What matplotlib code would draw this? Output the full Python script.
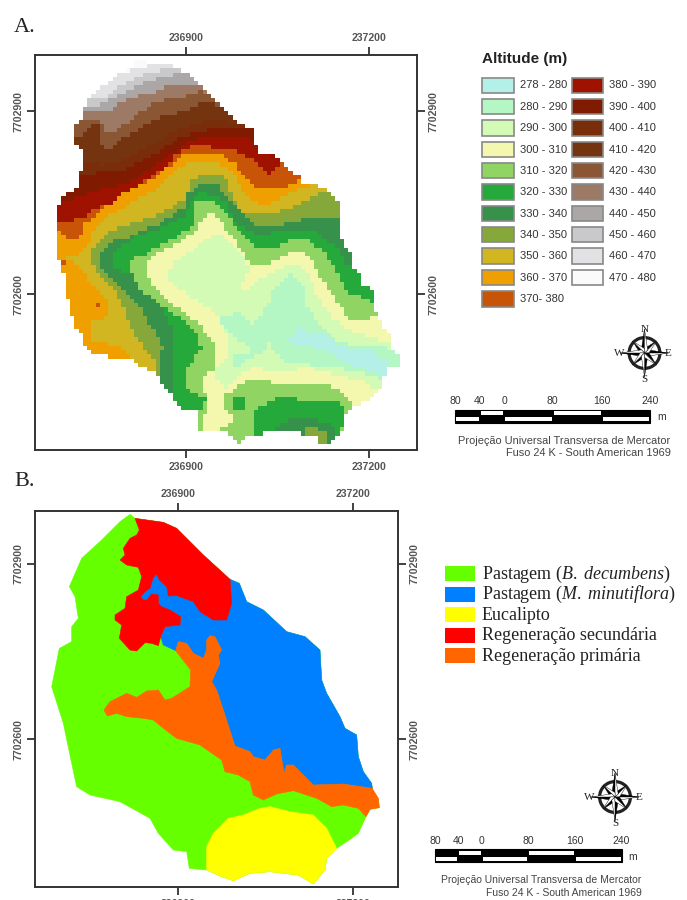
import matplotlib
matplotlib.use("Agg")
import matplotlib.pyplot as plt
import numpy as np
from matplotlib.colors import ListedColormap
from matplotlib.path import Path
from matplotlib.patches import Polygon, Rectangle, Wedge

plt.rcParams['font.family'] = ['Liberation Sans', 'DejaVu Sans']
plt.rcParams['mathtext.fontset'] = 'custom'
plt.rcParams['mathtext.rm'] = 'Liberation Serif'
plt.rcParams['mathtext.it'] = 'Liberation Serif:italic'

W, H = 687, 900

# legend data
alt_labels = ["278 - 280", "280 - 290", "290 - 300", "300 - 310", "310 - 320", "320 - 330",
              "330 - 340", "340 - 350", "350 - 360", "360 - 370", "370- 380", "380 - 390",
              "390 - 400", "400 - 410", "410 - 420", "420 - 430", "430 - 440", "440 - 450",
              "450 - 460", "460 - 470", "470 - 480"]
alt_colors = ["#B4F0E8", "#B4F6C4", "#D4FBB6", "#F4F8AF", "#90D464", "#26A93B",
              "#36924A", "#86A83A", "#D1B621", "#EFA000", "#C85408", "#A01200",
              "#801A00", "#7A2D0A", "#73340F", "#8B5633", "#9C7A66", "#ABA7A7",
              "#C9C9CB", "#E2E2E4", "#FAFAFA"]
use_labels = ["Pastagem ($\\it{B.\\;decumbens}$)", "Pastagem ($\\it{M.\\;minutiflora}$)", "Eucalipto",
              "Regeneração secundária", "Regeneração primária"]
use_colors = ["#66FF00", "#0080FF", "#FFFF00", "#FF0000", "#FF6600"]

easting_ticks = [236900, 237200]
northing_ticks = [7702600, 7702900]
scale_values = [-80, -40, 0, 80, 160, 240]
scale_labels = ["80", "40", "0", "80", "160", "240"]

# outlines (scan units, converted to metres with the ticks below)
outline_a = [(305,60),(345,60),(345,72),(405,72),(435,85),(470,98),(497,125),(520,150),(550,180),(575,205),
             (610,240),(640,255),(665,265),(665,310),(680,320),(690,345),(730,345),(750,370),(780,395),(805,408),
             (820,432),(855,435),(885,450),(920,485),(920,600),(935,605),(960,640),(970,680),(985,705),(1000,740),
             (1035,755),(1035,820),(1050,845),(1075,885),(1075,920),(1100,945),(1100,985),(1065,985),(1060,1020),
             (1050,1050),(1025,1075),(1000,1090),(970,1100),(945,1125),(935,1170),(910,1190),(895,1215),(870,1215),
             (860,1190),(805,1180),(720,1175),(670,1190),(640,1190),(635,1215),(625,1215),(590,1180),(510,1180),
             (500,1160),(500,1110),(465,1110),(420,1085),(420,1060),(395,1040),(385,1010),(345,990),(300,960),
             (270,955),(190,945),(150,915),(150,885),(130,850),(115,795),(100,710),(90,670),(75,650),(75,530),
             (88,485),(110,460),(140,440),(140,405),(152,385),(150,330),(140,325),(125,300),(125,265),(150,240),
             (165,195),(175,180),(205,150),(240,120),(270,98),(305,85)]

# contour lines, each is the upper edge of "altitude below the value"
line_470 = [(280,100),(305,90),(345,88),(360,60)]
line_460 = [(185,175),(225,170),(250,145),(305,120),(350,100),(405,85),(480,95)]
line_450 = [(160,195),(210,195),(260,165),(310,140),(360,120),(410,105),(480,100)]
line_440 = [(160,210),(230,215),(265,185),(330,165),(370,155),(410,137),(500,130)]
line_430 = [(130,245),(170,235),(210,245),(230,280),(250,277),(300,240),(360,195),(410,175),(460,170),(510,155),(530,165)]
line_420 = [(125,295),(155,285),(180,255),(210,255),(215,325),(235,330),(280,295),(350,250),(410,225),(470,210),(530,185),(560,195)]
line_410 = [(140,360),(210,375),(260,365),(320,340),(380,305),(440,270),(500,250),(560,235),(600,250)]
line_400 = [(145,410),(210,395),(270,390),(330,365),(390,330),(440,295),(500,275),(570,265),(620,260),(680,270)]
line_390 = [(70,515),(90,490),(160,465),(220,445),(290,430),(350,390),(410,355),(460,310),(530,290),(600,290),(660,295),(680,320),(740,360)]
line_380 = [(70,550),(160,535),(210,495),(260,485),(330,430),(390,390),(440,340),(480,320),(530,320),(610,330),(660,355),(710,405),(750,370),(800,350)]
line_370 = [(70,565),(85,565),(100,590),(130,600),(150,590),(160,555),(210,510),(290,455),(350,425),(420,375),(450,345),(510,340),(570,345),(610,370),(645,415),(680,445),(760,445),(810,415),(900,400)]
line_360 = [(320,1000),(305,960),(270,915),(190,910),(175,845),(225,835),(240,795),(190,740),(150,685),(110,655),(150,640),(180,610),(190,570),(225,535),(270,510),(330,470),(380,445),(420,405),(450,375),(510,365),(560,365),(610,400),(640,460),(660,480),(705,495),(800,450),(840,435),(1000,400)]
line_350 = [(370,1010),(370,960),(330,910),(290,845),(270,780),(230,730),(185,675),(180,640),(225,580),(310,550),(390,520),(460,480),(480,425),(510,405),(560,400),(585,420),(620,500),(640,525),(710,525),(770,510),(850,470),(885,455),(925,485),(1000,480)]
line_340 = [(385,1100),(385,990),(395,920),(345,830),(300,770),(250,730),(205,680),(205,640),(250,605),(300,590),(380,555),(460,505),(470,460),(510,435),(560,435),(590,470),(620,510),(680,560),(740,560),(830,535),(930,535)]
line_330 = [(420,1100),(420,1000),(425,950),(430,870),(390,800),(350,750),(300,700),(250,690),(250,640),(305,595),(390,565),(465,530),(485,475),(500,460),(550,465),(590,490),(610,545),(680,585),(740,575),(850,570),(880,600),(920,620),(940,675),(1000,690)]
line_320 = [(490,1300),(490,1145),(510,1115),(525,1075),(470,1050),(458,1000),(495,950),(510,925),(495,880),(440,830),(380,790),(320,740),(295,680),(300,660),(350,640),(420,600),(490,560),(495,485),(550,485),(590,520),(615,560),(680,625),(740,620),(780,600),(840,605),(880,640),(905,675),(935,730),(935,750),(1040,795)]
line_310 = [(500,1300),(500,1200),(510,1170),(525,1120),(530,1080),(510,1015),(560,985),(560,920),(500,850),(420,790),(360,730),(345,690),(345,675),(360,650),(410,625),(490,580),(525,525),(550,525),(585,565),(610,600),(660,675),(700,675),(780,640),(810,635),(850,670),(880,730),(950,835),(990,850),(1040,825),(1200,850)]

# the low ground is closed loops
loop_300 = [(410,695),(420,730),(480,770),(550,820),(585,870),(595,930),(580,970),(545,995),(565,1030),(590,1045),(630,1000),(670,985),(740,1000),(830,985),(870,995),(930,1010),(1010,1030),(1045,1060),(1150,1060),(1150,910),(1070,910),(950,870),(910,840),(860,770),(830,700),(800,670),(780,670),(700,710),(650,750),(625,745),(655,700),(650,670),(630,640),(580,590),(545,585),(500,620),(430,670)]
loop_290 = [(560,840),(610,820),(640,825),(660,865),(680,840),(720,780),(730,750),(785,700),(825,750),(830,800),(860,850),(920,900),(980,920),(1070,925),(1150,950),(1150,985),(1065,985),(1060,1020),(1000,1000),(920,985),(820,975),(780,975),(745,955),(725,935),(715,910),(700,940),(660,955),(630,975),(610,990),(600,980),(610,950),(665,935),(660,920),(610,895),(585,870)]
loop_280 = [(770,905),(805,860),(830,875),(880,875),(900,905),(980,935),(1020,935),(1070,965),(1060,1010),(1040,1000),(960,975),(900,945),(850,925),(790,920)]

# rise at the south end, painted over the valley
south_310 = [(575,1070),(630,1035),(650,1025),(710,1025),(740,1035),(890,1035),(920,1050),(970,1095),(950,1125),(950,1300),(630,1300),(630,1215),(562,1170),(610,1145),(580,1100)]
south_320 = [(665,1300),(665,1145),(680,1105),(720,1085),(755,1075),(920,1090),(945,1115),(930,1175),(930,1300)]
pool_320 = [(600,1090),(615,1075),(650,1075),(650,1095),(635,1110),(610,1105)]
south_330 = [(715,1180),(750,1150),(800,1130),(820,1140),(890,1145),(920,1180),(895,1215),(895,1300),(715,1300)]
south_340 = [(805,1180),(825,1165),(860,1165),(885,1180),(890,1215),(870,1215),(858,1185)]
spot_370_a = [(189,791),(202,791),(202,804),(189,804)]
spot_370_b = [(86,661),(99,661),(99,674),(86,674)]

# land use polygons for map B
outline_b = [(300,73),(315,85),(400,97),(440,115),(520,195),(600,268),(628,280),(650,335),(700,360),(770,425),(825,440),(870,480),(875,570),(890,610),(930,680),(945,715),(980,735),(985,800),(1000,845),(1025,880),(1030,915),(1045,925),(1048,953),(1020,958),(1008,980),(985,1030),(965,1045),(920,1075),(890,1105),(885,1140),(850,1182),(805,1155),(720,1145),(660,1150),(610,1172),(575,1160),(530,1140),(478,1135),(470,1085),(430,1080),(385,1030),(360,985),(270,935),(180,915),(140,890),(125,820),(100,700),(65,590),(88,475),(125,455),(125,410),(145,385),(135,320),(118,290),(155,205),(215,150),(270,95)]
blue_b = [(600,268),(628,280),(650,335),(700,360),(770,425),(825,440),(870,480),(875,570),(890,610),(930,680),(945,715),(980,735),(985,800),(1000,845),(1025,880),(1027,895),(940,882),(850,885),(815,850),(790,825),(770,825),(762,850),(750,775),(730,780),(705,810),(670,800),(660,785),(615,768),(580,660),(560,600),(545,575),(570,520),(565,495),(575,480),(555,440),(540,437),(530,450),(530,480),(520,505),(490,490),(470,460),(445,455),(437,482),(400,465),(392,440),(405,410),(450,405),(452,380),(420,360),(395,350),(385,340),(385,315),(365,312),(350,330),(340,330),(332,320),(345,305),(360,295),(370,262),(380,252),(388,270),(410,290),(415,318),(440,317),(490,335),(510,365),(550,390),(590,390),(605,340)]
yellow_b = [(640,975),(690,955),(720,950),(780,965),(850,975),(890,1015),(920,1075),(890,1105),(885,1140),(850,1182),(805,1155),(720,1145),(660,1150),(610,1172),(575,1160),(530,1140),(530,1070),(550,1030),(595,985)]
red_b = [(315,85),(400,97),(440,115),(520,195),(600,268),(605,340),(590,390),(550,390),(510,365),(490,335),(440,317),(415,318),(410,290),(388,270),(380,252),(370,262),(360,295),(345,305),(332,320),(340,330),(350,330),(365,312),(385,315),(385,340),(395,350),(420,360),(452,380),(450,405),(405,410),(392,440),(385,467),(365,460),(345,458),(320,483),(300,480),(268,445),(275,405),(255,390),(255,375),(285,355),(290,320),(325,300),(335,260),(325,232),(290,225),(270,210),(285,195),(280,175),(300,145),(320,135),(328,120)]
orange_b = [(437,482),(445,455),(470,460),(490,490),(520,505),(530,480),(530,450),(540,437),(555,440),(575,480),(565,495),(570,520),(545,575),(560,600),(580,660),(615,768),(660,785),(670,800),(705,810),(730,780),(750,775),(762,850),(770,825),(790,825),(815,850),(850,885),(940,882),(1027,895),(1045,925),(1048,953),(1020,958),(1008,980),(985,955),(940,945),(905,950),(860,925),(790,902),(740,912),(700,930),(670,915),(660,875),(625,855),(585,845),(575,810),(510,765),(440,745),(400,715),(370,690),(340,685),(290,680),(260,670),(232,678),(222,660),(240,635),(290,610),(320,622),(350,603),(385,600),(405,630),(425,625),(480,590),(482,540)]


def scan_to_map(points, u900, v900, per_unit):
    p = np.array(points, dtype=float)
    east = 236900 + (p[:, 0] - u900) * per_unit
    north = 7702900 - (p[:, 1] - v900) * per_unit
    return np.column_stack([east, north])


def map_a(points):
    return scan_to_map(points, 468, 213, 300 / 550)


def map_b(points):
    return scan_to_map(points, 444, 222, 300 / 525)


def add_map_axes(left, right, top, bottom, px_900e, px_900n, px_per_m):
    ax = fig.add_axes([left / W, 1 - bottom / H, (right - left) / W, (bottom - top) / H])
    ax.set_xlim(236900 + (left - px_900e) / px_per_m, 236900 + (right - px_900e) / px_per_m)
    ax.set_ylim(7702900 - (bottom - px_900n) / px_per_m, 7702900 - (top - px_900n) / px_per_m)
    ax.set_xticks(easting_ticks, [str(v) for v in easting_ticks])
    ax.set_yticks(northing_ticks, [str(v) for v in northing_ticks])
    ax.tick_params(direction='out', length=5.5, width=1.3, color='#333333', top=True, right=True,
                   labeltop=True, labelright=True, labelsize=7.6, labelcolor='#555555', pad=3)
    for lab in ax.get_xticklabels():
        lab.set_fontweight('bold')
    for lab in ax.get_yticklabels():
        lab.set_fontweight('bold')
        lab.set_rotation(90)
        lab.set_verticalalignment('center')
    for s in ax.spines.values():
        s.set_linewidth(1.4)
        s.set_color('#333333')
    return ax


def draw_scale(ov, x0, y0, px_per_m, fs):
    # x0 is the px position of the zero mark
    h = 13
    ov.add_patch(Rectangle((x0 + scale_values[0] * px_per_m, y0), 320 * px_per_m, h, fc='black', ec='black', lw=0.8))
    spans = list(zip(scale_values[:-1], scale_values[1:]))
    for i, (a, b) in enumerate(spans):
        xa, xb = x0 + a * px_per_m + 1, x0 + b * px_per_m - 1
        if i % 2 == 1:
            ov.add_patch(Rectangle((xa, y0 + 1.5), xb - xa, 4, fc='white', ec='none'))
        else:
            ov.add_patch(Rectangle((xa, y0 + 7.5), xb - xa, 4, fc='white', ec='none'))
    for v, lab in zip(scale_values, scale_labels):
        ov.text(x0 + v * px_per_m, y0 - 8, lab, ha='center', va='center', fontsize=7.5, color='#333333')
    ov.text(x0 + 240 * px_per_m + 11, y0 + 8, "m", ha='center', va='center', fontsize=7.5, color='#333333')
    right = x0 + 240 * px_per_m + 20
    ov.text(right, y0 + 31, "Projeção Universal Transversa de Mercator", ha='right', va='center', fontsize=fs, color='#444444')
    ov.text(right, y0 + 44, "Fuso 24 K - South American 1969", ha='right', va='center', fontsize=fs, color='#444444')


def draw_compass(ov, cx, cy):
    ov.add_patch(Wedge((cx, cy), 17, 0, 360, width=3.2, fc='#222222', ec='none'))
    for ang, r, w in [(a, 24 if a % 90 == 0 else 17, 3.2) for a in range(0, 360, 45)]:
        t = np.radians(ang)
        d = np.array([np.cos(t), -np.sin(t)])
        n = np.array([d[1], -d[0]])
        tip = np.array([cx, cy]) + d * r
        base = np.array([cx, cy]) + d * 3
        ov.add_patch(Polygon([tip, base + n * w, (cx, cy)], fc='black', ec='black', lw=0.3))
        ov.add_patch(Polygon([tip, base - n * w, (cx, cy)], fc='white', ec='black', lw=0.3))
    kw = dict(ha='center', va='center', fontsize=8, family='Liberation Serif', color='#222222')
    ov.text(cx, cy - 24, "N", **kw)
    ov.text(cx, cy + 27, "S", **kw)
    ov.text(cx - 25.5, cy + 0.5, "W", **kw)
    ov.text(cx + 24, cy + 0.5, "E", **kw)


fig = plt.figure(figsize=(W / 100, H / 100), dpi=100)

# A. altitude raster
ax_a = add_map_axes(35.3, 416.7, 55, 450, 186, 111, 183 / 300)
cell = 7.0
grid_e = np.arange(236660, 237300, cell)
grid_n = np.arange(7702270, 7703000, cell)
ee, nn = np.meshgrid(grid_e + cell / 2, grid_n + cell / 2)
pts = np.column_stack([ee.ravel(), nn.ravel()])


def inside(poly):
    return Path(map_a(poly)).contains_points(pts).reshape(ee.shape)


def below(line):
    # close a contour line round the south of the map
    first, last = line[0], line[-1]
    if first[1] >= 700:
        return list(line) + [(1400, last[1]), (1400, 1500), (first[0], 1500)]
    return [(-100, first[1])] + list(line) + [(1400, last[1]), (1400, 1500), (-100, 1500)]


grid = np.full(ee.shape, 20, dtype=int)
lines = [line_470, line_460, line_450, line_440, line_430, line_420, line_410, line_400, line_390,
         line_380, line_370, line_360, line_350, line_340, line_330, line_320, line_310]
band = 19
for line in lines:
    grid[inside(below(line))] = band
    band -= 1
for loop in [loop_300, loop_290, loop_280]:
    grid[inside(loop)] = band
    band -= 1
for patch, b in [(south_310, 4), (south_320, 5), (pool_320, 5), (south_330, 6), (south_340, 7),
                 (spot_370_a, 10), (spot_370_b, 10)]:
    grid[inside(patch)] = b
grid = np.ma.masked_where(~inside(outline_a), grid)
ax_a.imshow(grid, origin='lower', extent=[grid_e[0], grid_e[-1] + cell, grid_n[0], grid_n[-1] + cell],
            cmap=ListedColormap(alt_colors), vmin=-0.5, vmax=20.5, interpolation='nearest', aspect='auto')
ax_a.set_xlim(236900 + (35.3 - 186) * 300 / 183, 236900 + (416.7 - 186) * 300 / 183)
ax_a.set_ylim(7702900 - (450 - 111) * 300 / 183, 7702900 - (55 - 111) * 300 / 183)

# B. land use
ax_b = add_map_axes(35, 398, 511, 887, 178, 564, 175 / 300)
for poly, col in [(outline_b, use_colors[0]), (blue_b, use_colors[1]), (yellow_b, use_colors[2]),
                  (red_b, use_colors[3]), (orange_b, use_colors[4])]:
    ax_b.add_patch(Polygon(map_b(poly), closed=True, fc=col, ec=col, lw=0.4, joinstyle='round'))

# overlay in px for legends, scale bars and letters
ov = fig.add_axes([0, 0, 1, 1])
ov.set_xlim(0, W)
ov.set_ylim(H, 0)
ov.axis('off')
ov.patch.set_alpha(0)

ov.text(14, 27, "A.", family='Liberation Serif', fontsize=16, color='#222222', ha='left', va='center')
ov.text(14, 482, "B.", family='Liberation Serif', fontsize=16, color='#222222', ha='left', va='center')

ov.text(482, 59, "Altitude (m)", fontweight='bold', fontsize=11, color='#222222', ha='left', va='center')
for i, (lab, col) in enumerate(zip(alt_labels, alt_colors)):
    col_i = 0 if i < 11 else 1
    row = i if i < 11 else i - 11
    x = 482 + col_i * 89.5
    y = 77.5 + row * 21.35
    ov.add_patch(Rectangle((x, y), 31.5, 15.5, fc=col, ec='#888888', lw=1.2))
    ov.text(x + 37.5, y + 8, lab, fontsize=8, color='#333333', ha='left', va='center')

for i, (lab, col) in enumerate(zip(use_labels, use_colors)):
    y = 566 + i * 20.6
    ov.add_patch(Rectangle((445, y), 30, 15, fc=col, ec='none'))
    ov.text(482, y + 8, lab, family='Liberation Serif', fontsize=13, color='#222222', ha='left', va='center')

draw_scale(ov, 504, 409.5, 183 / 300, 7.9)
draw_scale(ov, 481.5, 849, 175 / 300, 7.5)
draw_compass(ov, 644.5, 353)
draw_compass(ov, 615, 797)

fig.savefig("out.png", dpi=100)
